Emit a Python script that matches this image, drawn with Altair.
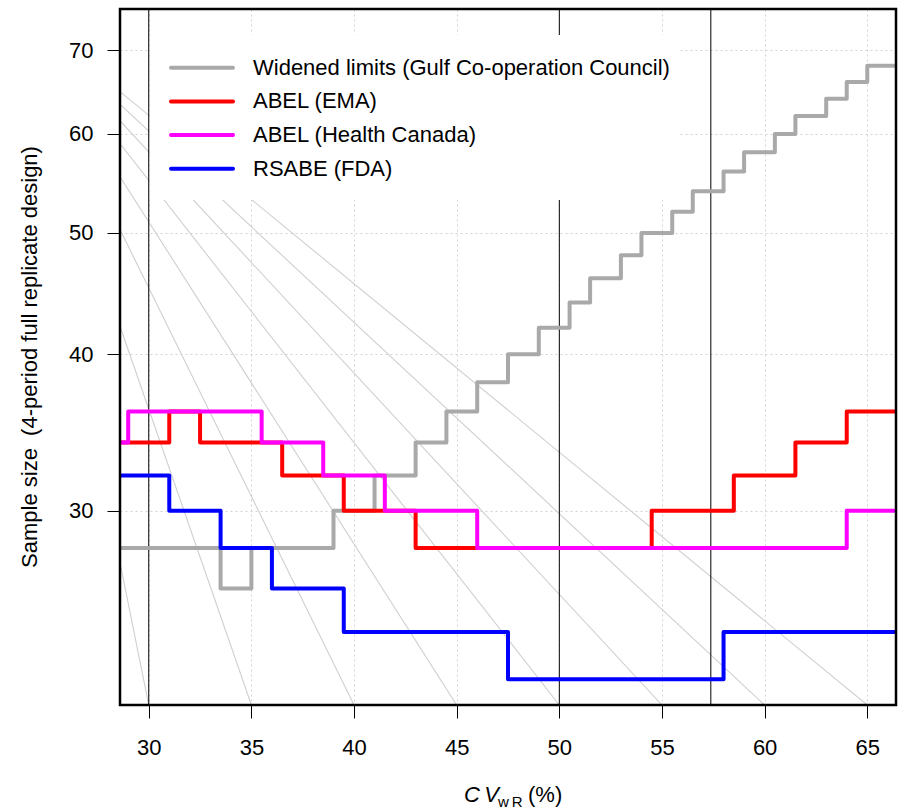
import altair as alt
import pandas as pd

# Axis ranges (CV in %, sample size on a log scale)
X_DOMAIN = [28.6, 66.4]
Y_DOMAIN = [20.98, 75.5]
x_ticks = [30, 35, 40, 45, 50, 55, 60, 65]
y_ticks = [30, 40, 50, 60, 70]

# Step functions: CV (%) at which the sample size changes, and the sample size from there on
gcc_cv = [28, 33.5, 35, 39, 41, 43, 44.5, 46, 47.5, 49, 50.5, 51.5, 53, 54, 55.5,
          56.5, 58, 59, 60.5, 61.5, 63, 64, 65, 67]
gcc_n = [28, 26, 28, 30, 32, 34, 36, 38, 40, 42, 44, 46, 48, 50, 52,
         54, 56, 58, 60, 62, 64, 66, 68, 68]
ema_cv = [28, 31, 32.5, 36.5, 39.5, 43, 54.5, 58.5, 61.5, 64, 67]
ema_n = [34, 36, 34, 32, 30, 28, 30, 32, 34, 36, 36]
hc_cv = [28, 29, 35.5, 38.5, 41.5, 46, 64, 67]
hc_n = [34, 36, 34, 32, 30, 28, 30, 30]
fda_cv = [28, 31, 33.5, 36, 39.5, 47.5, 58, 67]
fda_n = [32, 30, 28, 26, 24, 22, 24, 24]

series_names = ["Widened limits (Gulf Co-operation Council)", "ABEL (EMA)",
                "ABEL (Health Canada)", "RSABE (FDA)"]
series_colors = ["#A9A9A9", "#FF0000", "#FF00FF", "#0000FF"]

# Regulatory CV limits marked by vertical lines
ref_behind = [50]
ref_front = [30, 57.38]

# Background fan of light lines towards the x ticks
fan_origin_cv = 23.06
fan_origin_n = 77.0
fan_targets = x_ticks

FONT = "Liberation Sans"
W, H = 776, 696

x_axis = alt.Axis(values=x_ticks, title=None, grid=True, gridColor="#D3D3D3",
                  gridDash=[2, 3], gridWidth=1, domain=False, tickColor="black",
                  tickSize=13, tickWidth=1, labelFont=FONT, labelFontSize=22,
                  labelColor="black", labelPadding=19, labelFlush=False)
y_axis = alt.Axis(values=y_ticks, title=None, grid=True, gridColor="#D3D3D3",
                  gridDash=[2, 3], gridWidth=1, domain=False, tickColor="black",
                  tickSize=13, tickWidth=1, labelFont=FONT, labelFontSize=22,
                  labelColor="black", labelPadding=14, labelFlush=False)


def xenc(field="cv"):
    return alt.X(f"{field}:Q", scale=alt.Scale(domain=X_DOMAIN, nice=False, zero=False),
                 axis=x_axis)


def yenc(field="n"):
    return alt.Y(f"{field}:Q", scale=alt.Scale(type="log", domain=Y_DOMAIN, nice=False),
                 axis=y_axis)


fan_df = pd.DataFrame({
    "cv": [fan_origin_cv] * len(fan_targets),
    "n": [fan_origin_n] * len(fan_targets),
    "cv2": fan_targets,
    "n2": [Y_DOMAIN[0]] * len(fan_targets),
})
fan = alt.Chart(fan_df).mark_rule(color="#CFCFCF", strokeWidth=1.1, clip=True).encode(
    x=xenc(), y=yenc(), x2="cv2:Q", y2="n2:Q")

ref_back = alt.Chart(pd.DataFrame({"cv": ref_behind})).mark_rule(
    color="black", strokeWidth=1).encode(x=xenc())

legend_box = alt.Chart(pd.DataFrame({"k": [0]})).mark_rect(fill="white").encode(
    x=alt.value(29.5), x2=alt.value(560), y=alt.value(26), y2=alt.value(191))

ref_top = alt.Chart(pd.DataFrame({"cv": ref_front})).mark_rule(
    color="black", strokeWidth=1).encode(x=xenc())

step_layers = []
for cvs, ns, col in [(gcc_cv, gcc_n, series_colors[0]), (ema_cv, ema_n, series_colors[1]),
                     (hc_cv, hc_n, series_colors[2]), (fda_cv, fda_n, series_colors[3])]:
    df = pd.DataFrame({"cv": cvs, "n": ns, "i": range(len(cvs))})
    step_layers.append(
        alt.Chart(df).mark_line(interpolate="step-after", clip=True, strokeWidth=4,
                                color=col, strokeJoin="round").encode(
            x=xenc(), y=yenc(), order="i:Q"))

legend_rows = [58.7, 92.4, 126.1, 159.8]
legend_layers = []
for name, col, ry in zip(series_names, series_colors, legend_rows):
    row = pd.DataFrame({"label": [name]})
    legend_layers.append(
        alt.Chart(row).mark_rule(color=col, strokeWidth=4, strokeCap="round").encode(
            x=alt.value(51), x2=alt.value(113), y=alt.value(ry)))
    legend_layers.append(
        alt.Chart(row).mark_text(align="left", baseline="middle", font=FONT, fontSize=22,
                                 color="black").encode(
            x=alt.value(133), y=alt.value(ry), text="label:N"))

frame = alt.Chart(pd.DataFrame({"k": [0]})).mark_rect(
    filled=False, stroke="black", strokeWidth=2.5).encode(
    x=alt.value(0), x2=alt.value(W), y=alt.value(0), y2=alt.value(H))

title_df = pd.DataFrame({"t": ["Sample size\u00a0\u00a0(4-period full replicate design)"]})
y_title = alt.Chart(title_df).mark_text(angle=270, align="center", baseline="alphabetic",
                                        font=FONT, fontSize=22, color="black").encode(
    x=alt.value(-83), y=alt.value(348), text="t:N")

xt_main = alt.Chart(pd.DataFrame({"t": ["C\u2009V"]})).mark_text(
    align="right", baseline="alphabetic", font=FONT, fontSize=22, fontStyle="italic",
    color="black").encode(x=alt.value(379), y=alt.value(793), text="t:N")
xt_sub = alt.Chart(pd.DataFrame({"t": ["w\u2009R"]})).mark_text(
    align="left", baseline="alphabetic", font=FONT, fontSize=15,
    color="black").encode(x=alt.value(378), y=alt.value(798), text="t:N")
xt_unit = alt.Chart(pd.DataFrame({"t": ["(%)"]})).mark_text(
    align="left", baseline="alphabetic", font=FONT, fontSize=22,
    color="black").encode(x=alt.value(408), y=alt.value(793), text="t:N")

chart = alt.layer(
    fan, ref_back, legend_box, ref_top, *step_layers, *legend_layers, frame,
    y_title, xt_main, xt_sub, xt_unit
).properties(
    width=W, height=H,
    padding={"left": 120, "top": 9, "right": 3, "bottom": 104},
    autosize=alt.AutoSizeParams(type="none"),
).configure_view(stroke=None)

chart.save("out.html", embed_options={"renderer": "svg", "actions": False})
